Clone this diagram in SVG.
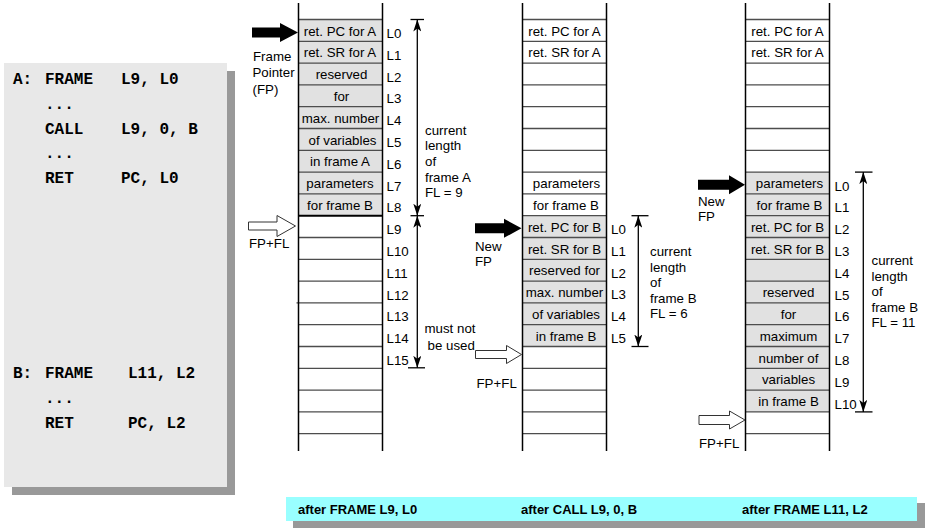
<svg xmlns="http://www.w3.org/2000/svg" width="925" height="528" viewBox="0 0 925 528">
<style>
.t{font-family:"Liberation Sans",Arial,sans-serif;font-size:13.3px;fill:#000}
.c{text-anchor:middle}
.code{font-family:"Liberation Mono","Courier New",monospace;font-size:16px;font-weight:bold;fill:#000}
.bar{font-family:"Liberation Sans",Arial,sans-serif;font-size:13px;font-weight:bold;fill:#000}
.g{fill:#e1e1e1}
.row{stroke:#4d4d4d;stroke-width:1.3}
.col{stroke:#000;stroke-width:1.5}
.dim{stroke:#000;stroke-width:1.3;fill:none}
.tick{stroke:#000;stroke-width:1.3}
.solid{fill:#000}
.hollow{fill:#fff;stroke:#333;stroke-width:1}
</style>
<defs>
<marker id="ah" viewBox="0 0 12 8" refX="12" refY="4" markerWidth="12" markerHeight="8" markerUnits="userSpaceOnUse" orient="auto-start-reverse">
<path d="M0,0 L12,4 L0,8 L3,4 z" fill="#000"/>
</marker>
</defs>

<g id="code">
<rect x="12" y="71" width="223" height="424" fill="#999"/>
<rect x="4" y="63" width="223" height="424" fill="#e8e8e8"/>
<text class="code" x="13" y="84">A:</text>
<text class="code" x="45" y="84">FRAME</text>
<text class="code" x="121" y="84">L9, L0</text>
<text class="code" x="45" y="108.5">...</text>
<text class="code" x="45" y="133.5">CALL</text>
<text class="code" x="121" y="133.5">L9, 0, B</text>
<text class="code" x="45" y="158">...</text>
<text class="code" x="45" y="183">RET</text>
<text class="code" x="121" y="183">PC, L0</text>
<text class="code" x="13" y="378">B:</text>
<text class="code" x="45" y="378">FRAME</text>
<text class="code" x="128" y="378">L11, L2</text>
<text class="code" x="45" y="403">...</text>
<text class="code" x="45" y="428">RET</text>
<text class="code" x="128" y="428">PC, L2</text>
</g>

<g id="stack1">
<rect class="g" x="298.5" y="19.5" width="84" height="196.2"/>
<g class="row">
<line x1="298.5" y1="19.5" x2="382.5" y2="19.5"/>
<line x1="298.5" y1="41.3" x2="382.5" y2="41.3"/>
<line x1="298.5" y1="63.1" x2="382.5" y2="63.1"/>
<line x1="298.5" y1="84.9" x2="382.5" y2="84.9"/>
<line x1="298.5" y1="106.7" x2="382.5" y2="106.7"/>
<line x1="298.5" y1="128.5" x2="382.5" y2="128.5"/>
<line x1="298.5" y1="150.3" x2="382.5" y2="150.3"/>
<line x1="298.5" y1="172.1" x2="382.5" y2="172.1"/>
<line x1="298.5" y1="193.9" x2="382.5" y2="193.9"/>
<line x1="298.5" y1="237.5" x2="382.5" y2="237.5"/>
<line x1="298.5" y1="259.3" x2="382.5" y2="259.3"/>
<line x1="298.5" y1="281.1" x2="382.5" y2="281.1"/>
<line x1="296.5" y1="302.9" x2="382.5" y2="302.9"/>
<line x1="298.5" y1="324.7" x2="382.5" y2="324.7"/>
<line x1="298.5" y1="346.5" x2="382.5" y2="346.5"/>
<line x1="298.5" y1="368.3" x2="382.5" y2="368.3"/>
<line x1="298.5" y1="390.1" x2="382.5" y2="390.1"/>
<line x1="298.5" y1="411.9" x2="382.5" y2="411.9"/>
<line x1="298.5" y1="433.7" x2="382.5" y2="433.7"/>
</g>
<line x1="298.5" y1="215.7" x2="382.5" y2="215.7" stroke="#000" stroke-width="2"/>
<line class="col" x1="298.5" y1="3" x2="298.5" y2="451"/>
<line class="col" x1="382.5" y1="3" x2="382.5" y2="451"/>
<text class="t c" x="340" y="35.5">ret. PC for A</text>
<text class="t c" x="340" y="57.3">ret. SR for A</text>
<text class="t c" x="341.5" y="79.1">reserved</text>
<text class="t c" x="341.5" y="100.9">for</text>
<text class="t c" x="340.5" y="122.7">max. number</text>
<text class="t c" x="342.5" y="144.5">of variables</text>
<text class="t c" x="340" y="166.3">in frame A</text>
<text class="t c" x="340" y="188.1">parameters</text>
<text class="t c" x="340" y="209.9">for frame B</text>
<text class="t" x="386.5" y="38">L0</text>
<text class="t" x="386.5" y="59.8">L1</text>
<text class="t" x="386.5" y="81.6">L2</text>
<text class="t" x="386.5" y="103.4">L3</text>
<text class="t" x="386.5" y="125.2">L4</text>
<text class="t" x="386.5" y="147">L5</text>
<text class="t" x="386.5" y="168.8">L6</text>
<text class="t" x="386.5" y="190.6">L7</text>
<text class="t" x="386.5" y="212.4">L8</text>
<text class="t" x="386.5" y="234.2">L9</text>
<text class="t" x="386.5" y="256">L10</text>
<text class="t" x="386.5" y="277.8">L11</text>
<text class="t" x="386.5" y="299.6">L12</text>
<text class="t" x="386.5" y="321.4">L13</text>
<text class="t" x="386.5" y="343.2">L14</text>
<text class="t" x="386.5" y="365">L15</text>
</g>

<g id="stack2">
<rect class="g" x="522.5" y="215.7" width="84" height="130.8"/>
<g class="row">
<line x1="522.5" y1="19.5" x2="606.5" y2="19.5"/>
<line x1="522.5" y1="41.3" x2="606.5" y2="41.3"/>
<line x1="522.5" y1="63.1" x2="606.5" y2="63.1"/>
<line x1="522.5" y1="84.9" x2="606.5" y2="84.9"/>
<line x1="522.5" y1="106.7" x2="606.5" y2="106.7"/>
<line x1="522.5" y1="128.5" x2="606.5" y2="128.5"/>
<line x1="522.5" y1="150.3" x2="606.5" y2="150.3"/>
<line x1="522.5" y1="172.1" x2="606.5" y2="172.1"/>
<line x1="522.5" y1="193.9" x2="606.5" y2="193.9"/>
<line x1="522.5" y1="215.7" x2="606.5" y2="215.7"/>
<line x1="522.5" y1="237.5" x2="606.5" y2="237.5"/>
<line x1="522.5" y1="259.3" x2="606.5" y2="259.3"/>
<line x1="522.5" y1="281.1" x2="606.5" y2="281.1"/>
<line x1="522.5" y1="302.9" x2="606.5" y2="302.9"/>
<line x1="522.5" y1="324.7" x2="606.5" y2="324.7"/>
<line x1="522.5" y1="346.5" x2="606.5" y2="346.5"/>
<line x1="522.5" y1="368.3" x2="606.5" y2="368.3"/>
<line x1="522.5" y1="390.1" x2="606.5" y2="390.1"/>
<line x1="522.5" y1="411.9" x2="606.5" y2="411.9"/>
<line x1="522.5" y1="433.7" x2="606.5" y2="433.7"/>
</g>
<line class="col" x1="522.5" y1="3" x2="522.5" y2="451"/>
<line class="col" x1="606.5" y1="3" x2="606.5" y2="451"/>
<text class="t c" x="564.5" y="35.5">ret. PC for A</text>
<text class="t c" x="564.5" y="57.3">ret. SR for A</text>
<text class="t c" x="566.5" y="188.1">parameters</text>
<text class="t c" x="566" y="209.9">for frame B</text>
<text class="t c" x="564.5" y="231.7">ret. PC for B</text>
<text class="t c" x="564.5" y="253.5">ret. SR for B</text>
<text class="t c" x="564.5" y="275.3">reserved for</text>
<text class="t c" x="564.5" y="297.1">max. number</text>
<text class="t c" x="566" y="318.9">of variables</text>
<text class="t c" x="566" y="340.7">in frame B</text>
<text class="t" x="611" y="234">L0</text>
<text class="t" x="611" y="255.8">L1</text>
<text class="t" x="611" y="277.6">L2</text>
<text class="t" x="611" y="299.4">L3</text>
<text class="t" x="611" y="321.2">L4</text>
<text class="t" x="611" y="343">L5</text>
</g>

<g id="stack3">
<rect class="g" x="745.5" y="172.1" width="84" height="239.8"/>
<g class="row">
<line x1="745.5" y1="19.5" x2="829.5" y2="19.5"/>
<line x1="745.5" y1="41.3" x2="829.5" y2="41.3"/>
<line x1="745.5" y1="63.1" x2="829.5" y2="63.1"/>
<line x1="745.5" y1="84.9" x2="829.5" y2="84.9"/>
<line x1="745.5" y1="106.7" x2="829.5" y2="106.7"/>
<line x1="745.5" y1="128.5" x2="829.5" y2="128.5"/>
<line x1="745.5" y1="150.3" x2="829.5" y2="150.3"/>
<line x1="745.5" y1="172.1" x2="829.5" y2="172.1"/>
<line x1="745.5" y1="193.9" x2="829.5" y2="193.9"/>
<line x1="745.5" y1="215.7" x2="829.5" y2="215.7"/>
<line x1="745.5" y1="237.5" x2="829.5" y2="237.5"/>
<line x1="745.5" y1="259.3" x2="829.5" y2="259.3"/>
<line x1="745.5" y1="281.1" x2="829.5" y2="281.1"/>
<line x1="745.5" y1="302.9" x2="829.5" y2="302.9"/>
<line x1="745.5" y1="324.7" x2="829.5" y2="324.7"/>
<line x1="745.5" y1="346.5" x2="829.5" y2="346.5"/>
<line x1="745.5" y1="368.3" x2="829.5" y2="368.3"/>
<line x1="745.5" y1="390.1" x2="829.5" y2="390.1"/>
<line x1="745.5" y1="411.9" x2="829.5" y2="411.9"/>
<line x1="745.5" y1="433.7" x2="829.5" y2="433.7"/>
</g>
<line class="col" x1="745.5" y1="3" x2="745.5" y2="451"/>
<line class="col" x1="829.5" y1="3" x2="829.5" y2="451"/>
<text class="t c" x="787.5" y="35.5">ret. PC for A</text>
<text class="t c" x="787.5" y="57.3">ret. SR for A</text>
<text class="t c" x="789.5" y="188.1">parameters</text>
<text class="t c" x="789.5" y="209.9">for frame B</text>
<text class="t c" x="787.5" y="231.7">ret. PC for B</text>
<text class="t c" x="787.5" y="253.5">ret. SR for B</text>
<text class="t c" x="788.5" y="297.1">reserved</text>
<text class="t c" x="788.5" y="318.9">for</text>
<text class="t c" x="788.5" y="340.7">maximum</text>
<text class="t c" x="788.5" y="362.5">number of</text>
<text class="t c" x="788.5" y="384.3">variables</text>
<text class="t c" x="788.5" y="406.1">in frame B</text>
<text class="t" x="834.5" y="190.6">L0</text>
<text class="t" x="834.5" y="212.4">L1</text>
<text class="t" x="834.5" y="234.2">L2</text>
<text class="t" x="834.5" y="256">L3</text>
<text class="t" x="834.5" y="277.8">L4</text>
<text class="t" x="834.5" y="299.6">L5</text>
<text class="t" x="834.5" y="321.4">L6</text>
<text class="t" x="834.5" y="343.2">L7</text>
<text class="t" x="834.5" y="365">L8</text>
<text class="t" x="834.5" y="386.8">L9</text>
<text class="t" x="834.5" y="408.6">L10</text>
</g>

<g id="pointers">
<polygon class="solid" points="252,27.5 280,27.5 280,23 298,32.5 280,42 280,37.5 252,37.5"/>
<text class="t" x="253" y="60.5">Frame</text>
<text class="t" x="252.5" y="77">Pointer</text>
<text class="t" x="252.5" y="93.5">(FP)</text>
<polygon class="hollow" points="248.5,222 277,222 277,215.5 295.5,226 277,236.5 277,230 248.5,230"/>
<text class="t" x="249" y="248">FP+FL</text>
<polygon class="solid" points="475,223.3 504,223.3 504,218.8 521.5,228.3 504,237.8 504,233.3 475,233.3"/>
<text class="t" x="475" y="251">New</text>
<text class="t" x="475" y="266">FP</text>
<polygon class="hollow" points="475.5,350.5 506.5,350.5 506.5,345.5 521.5,354.5 506.5,363.5 506.5,358.5 475.5,358.5"/>
<text class="t" x="476.5" y="388">FP+FL</text>
<polygon class="solid" points="698,179.7 729,179.7 729,175.2 745,184.7 729,194.2 729,189.7 698,189.7"/>
<text class="t" x="698" y="206">New</text>
<text class="t" x="698" y="221">FP</text>
<polygon class="hollow" points="699,415.5 729.5,415.5 729.5,411 745,420 729.5,429 729.5,424.5 699,424.5"/>
<text class="t" x="699" y="448">FP+FL</text>
</g>

<g id="connectors">
<line class="tick" x1="410.5" y1="19.5" x2="424" y2="19.5"/>
<line class="tick" x1="410.5" y1="215.7" x2="424" y2="215.7"/>
<line class="tick" x1="408" y1="367.8" x2="425" y2="367.8"/>
<line class="dim" x1="417.3" y1="19.5" x2="417.3" y2="215.7" marker-start="url(#ah)" marker-end="url(#ah)"/>
<line class="dim" x1="417.3" y1="215.7" x2="417.3" y2="367.8" marker-start="url(#ah)" marker-end="url(#ah)"/>
<line class="tick" x1="631.5" y1="215.7" x2="648.5" y2="215.7"/>
<line class="tick" x1="631.5" y1="346.5" x2="648.5" y2="346.5"/>
<line class="dim" x1="638.3" y1="215.7" x2="638.3" y2="346.5" marker-start="url(#ah)" marker-end="url(#ah)"/>
<line class="tick" x1="855" y1="172.1" x2="872.5" y2="172.1"/>
<line class="tick" x1="855" y1="411.9" x2="872.5" y2="411.9"/>
<line class="dim" x1="863.3" y1="172.1" x2="863.3" y2="411.9" marker-start="url(#ah)" marker-end="url(#ah)"/>
</g>

<g id="dimlabels">
<text class="t" x="425" y="134.5">current</text>
<text class="t" x="425" y="150">length</text>
<text class="t" x="425" y="166">of</text>
<text class="t" x="425" y="181.5">frame A</text>
<text class="t" x="425" y="197">FL = 9</text>
<text class="t" x="424.5" y="332.5">must not</text>
<text class="t" x="427.5" y="349.5">be used</text>
<text class="t" x="650" y="256">current</text>
<text class="t" x="650" y="271.5">length</text>
<text class="t" x="650" y="287">of</text>
<text class="t" x="650" y="302.5">frame B</text>
<text class="t" x="650" y="318">FL = 6</text>
<text class="t" x="871.5" y="265">current</text>
<text class="t" x="871.5" y="280.5">length</text>
<text class="t" x="871.5" y="296">of</text>
<text class="t" x="871.5" y="311.5">frame B</text>
<text class="t" x="871.5" y="327">FL = 11</text>
</g>

<g id="captions">
<rect x="293" y="503" width="632" height="25" fill="#999"/>
<rect x="286" y="497" width="631" height="24" fill="#99ffff"/>
<text class="bar" x="298" y="514">after FRAME L9, L0</text>
<text class="bar" x="521" y="514">after CALL L9, 0, B</text>
<text class="bar" x="742" y="514">after FRAME L11, L2</text>
</g>
</svg>
